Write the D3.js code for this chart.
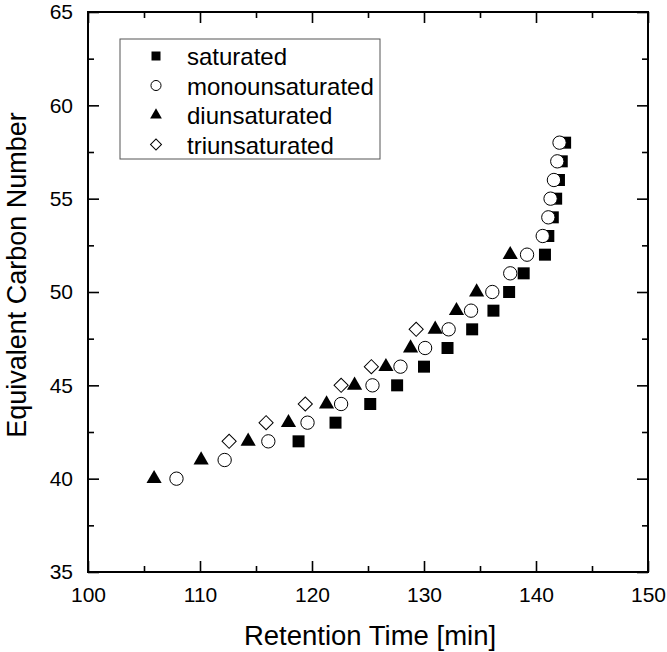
<!DOCTYPE html>
<html>
<head>
<meta charset="utf-8">
<script src="https://cdn.jsdelivr.net/npm/d3@7"></script>
<style>
  body { margin: 0; background: #fff; }
  svg text { font-family: "Liberation Sans", Arial, sans-serif; fill: #000; }
</style>
</head>
<body>
<script>
// equivalent carbon number vs retention time, one pair of arrays per series
let satECN = [42, 43, 44, 45, 46, 47, 48, 49, 50, 51, 52, 53, 54, 55, 56, 57, 58]
let satRT = [118.8, 122.1, 125.2, 127.6, 130.0, 132.1, 134.3, 136.2, 137.6, 138.9, 140.8, 141.1, 141.5, 141.8, 142.05, 142.3, 142.6]

let monoECN = [40, 41, 42, 43, 44, 45, 46, 47, 48, 49, 50, 51, 52, 53, 54, 55, 56, 57, 58]
let monoRT = [107.9, 112.2, 116.1, 119.6, 122.6, 125.4, 127.9, 130.1, 132.2, 134.2, 136.1, 137.7, 139.2, 140.6, 141.1, 141.3, 141.6, 141.9, 142.1]

let diECN = [40, 41, 42, 43, 44, 45, 46, 47, 48, 49, 50, 52]
let diRT = [105.9, 110.1, 114.3, 117.9, 121.3, 123.8, 126.6, 128.8, 131.0, 132.9, 134.7, 137.7]

let triECN = [42, 43, 44, 45, 46, 48]
let triRT = [112.6, 115.9, 119.4, 122.6, 125.3, 129.3]

let seriesNames = ['saturated', 'monounsaturated', 'diunsaturated', 'triunsaturated']

let xTicks = [100, 110, 120, 130, 140, 150]
let xMinor = [105, 115, 125, 135, 145]
let yTicks = [35, 40, 45, 50, 55, 60, 65]
let yMinor = [37.5, 42.5, 47.5, 52.5, 57.5, 62.5]

let width = 667;
let height = 652;
let pLeft = 88, pRight = 648, pTop = 12, pBottom = 572;

let svg = d3.select('body')
  .append('svg')
  .attr('width', width)
  .attr('height', height);

let x = d3.scaleLinear().domain([100, 150]).range([pLeft, pRight]);
let y = d3.scaleLinear().domain([35, 65]).range([pBottom, pTop]);

// axes: ticks point inward on all four sides
function styleAxis(g) {
  g.select('.domain').remove();
  g.selectAll('line').attr('stroke', '#000').attr('stroke-width', 1.6);
  g.selectAll('text').style('font-size', '21px').attr('fill', '#000');
}

let major = 11, minor = 6;

svg.append('g').attr('transform', `translate(0,${pBottom})`)
  .call(d3.axisBottom(x).tickValues(xTicks).tickSize(-major).tickPadding(15).tickFormat(d3.format('d')))
  .call(styleAxis);
svg.append('g').attr('transform', `translate(0,${pBottom})`)
  .call(d3.axisBottom(x).tickValues(xMinor).tickSize(-minor).tickFormat(''))
  .call(styleAxis);
svg.append('g').attr('transform', `translate(0,${pTop})`)
  .call(d3.axisTop(x).tickValues(xTicks).tickSize(-major).tickFormat(''))
  .call(styleAxis);
svg.append('g').attr('transform', `translate(0,${pTop})`)
  .call(d3.axisTop(x).tickValues(xMinor).tickSize(-minor).tickFormat(''))
  .call(styleAxis);

svg.append('g').attr('transform', `translate(${pLeft},0)`)
  .call(d3.axisLeft(y).tickValues(yTicks).tickSize(-major).tickPadding(15).tickFormat(d3.format('d')))
  .call(styleAxis);
svg.append('g').attr('transform', `translate(${pLeft},0)`)
  .call(d3.axisLeft(y).tickValues(yMinor).tickSize(-minor).tickFormat(''))
  .call(styleAxis);
svg.append('g').attr('transform', `translate(${pRight},0)`)
  .call(d3.axisRight(y).tickValues(yTicks).tickSize(-major).tickFormat(''))
  .call(styleAxis);
svg.append('g').attr('transform', `translate(${pRight},0)`)
  .call(d3.axisRight(y).tickValues(yMinor).tickSize(-minor).tickFormat(''))
  .call(styleAxis);

svg.append('rect')
  .attr('x', pLeft).attr('y', pTop)
  .attr('width', pRight - pLeft).attr('height', pBottom - pTop)
  .attr('fill', 'none').attr('stroke', '#000').attr('stroke-width', 2);

svg.append('text')
  .attr('x', 370).attr('y', 645)
  .attr('text-anchor', 'middle')
  .style('font-size', '27.5px')
  .text('Retention Time [min]');

svg.append('text')
  .attr('transform', 'translate(26,275) rotate(-90)')
  .attr('text-anchor', 'middle')
  .style('font-size', '27px')
  .text('Equivalent Carbon Number');

// marker shapes
let shapes = [
  { path: d3.symbol(d3.symbolSquare, 144)(), fill: '#000', stroke: 'none', rot: 0 },
  { path: d3.symbol(d3.symbolCircle, 140)(), fill: '#fff', stroke: '#000', rot: 0 },
  { path: d3.symbol(d3.symbolTriangle, 100)(), fill: '#000', stroke: 'none', rot: 0 },
  { path: d3.symbol(d3.symbolSquare, 100)(), fill: '#fff', stroke: '#000', rot: 45 }
]
let legendShapes = [
  d3.symbol(d3.symbolSquare, 81)(),
  d3.symbol(d3.symbolCircle, 80)(),
  d3.symbol(d3.symbolTriangle, 60)(),
  d3.symbol(d3.symbolSquare, 60)()
]

let series = [
  { rt: satRT, ecn: satECN, s: 0 },
  { rt: diRT, ecn: diECN, s: 2 },
  { rt: triRT, ecn: triECN, s: 3 },
  { rt: monoRT, ecn: monoECN, s: 1 }
]

series.forEach(function (ser) {
  let sh = shapes[ser.s];
  svg.append('g').selectAll('path')
    .data(ser.rt.map((t, i) => [t, ser.ecn[i]]))
    .enter().append('path')
    .attr('d', sh.path)
    .attr('transform', d => `translate(${x(d[0])},${y(d[1])}) rotate(${sh.rot})`)
    .attr('fill', sh.fill)
    .attr('stroke', sh.stroke)
    .attr('stroke-width', 1);
});

// legend
let legend = svg.append('g');
legend.append('rect')
  .attr('x', 120).attr('y', 39).attr('width', 260).attr('height', 120)
  .attr('fill', '#fff').attr('stroke', '#555').attr('stroke-width', 1);

seriesNames.forEach(function (name, i) {
  let cy = 56 + i * 29.5;
  let sh = shapes[i];
  legend.append('path')
    .attr('d', legendShapes[i])
    .attr('transform', `translate(156,${cy}) rotate(${sh.rot})`)
    .attr('fill', sh.fill)
    .attr('stroke', sh.stroke)
    .attr('stroke-width', 1);
  legend.append('text')
    .attr('x', 187).attr('y', cy + 9)
    .style('font-size', '24px')
    .text(name);
});
</script>
</body>
</html>
